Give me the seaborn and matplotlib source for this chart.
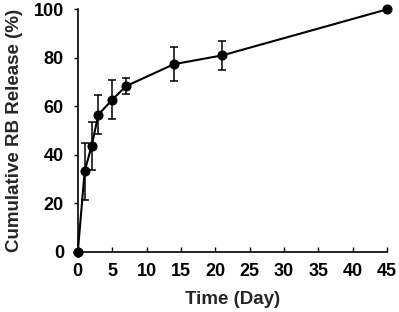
import numpy as np
import pandas as pd
import matplotlib
matplotlib.use("Agg")
import matplotlib.pyplot as plt
import seaborn as sns

# release data
days = [0, 1, 2, 3, 5, 7, 14, 21, 45]
release = [0, 33.2, 43.6, 56.6, 62.7, 68.3, 77.4, 81.0, 100.0]
release_sd = [0, 11.8, 10.0, 8.2, 8.0, 3.2, 7.0, 6.0, 0]

sns.set_style("ticks")
plt.rcParams["font.family"] = ["Liberation Sans", "DejaVu Sans"]
plt.rcParams["font.weight"] = "bold"

df = pd.DataFrame({"day": days, "release": release, "sd": release_sd})

fig = plt.figure(figsize=(3.99, 3.12), dpi=100)
ax = fig.add_axes([0.195, 0.193, 0.775, 0.777])

ax.errorbar(df["day"], df["release"], yerr=df["sd"], fmt="none",
            ecolor="black", elinewidth=1.1, capsize=3, capthick=1.1, zorder=2)
sns.lineplot(data=df, x="day", y="release", color="black", linewidth=1.5,
             marker="o", markersize=6.5, markeredgecolor="black", ax=ax, zorder=3)
# first point is drawn as a diamond in the original
ax.plot(df["day"].iloc[:1], df["release"].iloc[:1], marker="D", color="black",
        markersize=5.5, linestyle="none", zorder=4, clip_on=False)

ax.set_xlim(0, 45)
ax.set_ylim(0, 100)
ax.set_xticks(np.arange(0, 46, 5))
ax.set_yticks(np.arange(0, 101, 20))
ax.set_xlabel("Time (Day)", fontsize=13.5, fontweight="bold", labelpad=8)
ax.set_ylabel("Cumulative RB Release (%)", fontsize=13.5, fontweight="bold", labelpad=8)
ax.tick_params(axis="x", labelsize=13, width=1.0, length=3.5, direction="in", pad=8, colors="black")
ax.tick_params(axis="y", labelsize=13, width=1.0, length=3, direction="out", pad=7, colors="black")
for lab in ax.get_xticklabels() + ax.get_yticklabels():
    lab.set_fontweight("bold")
for s in ["left", "bottom"]:
    ax.spines[s].set_linewidth(1.2)
    ax.spines[s].set_color("black")
sns.despine(ax=ax)
for line in ax.lines:
    line.set_clip_on(False)

fig.savefig("out.png", dpi=100)
